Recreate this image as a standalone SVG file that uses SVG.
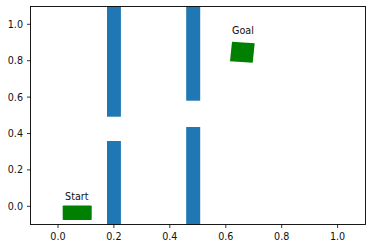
<svg xmlns="http://www.w3.org/2000/svg" width="372" height="248" viewBox="0 0 372 248">
<style>
.wall{fill:#1f77b4}
.goal{fill:#008000}
.tick{stroke:#000;stroke-width:0.8}
.lbl{font-family:"DejaVu Sans",sans-serif;font-size:9.6px;fill:#111}
.spine{fill:none;stroke:#000;stroke-width:0.9}
</style>
<rect width="372" height="248" fill="#fff"/>
<g id="walls">
<rect class="wall" x="107" y="6.5" width="13.9" height="110.2"/>
<rect class="wall" x="107" y="141" width="13.9" height="83.5"/>
<rect class="wall" x="186.2" y="6.5" width="14" height="94.2"/>
<rect class="wall" x="186.2" y="127" width="14" height="97.5"/>
</g>
<g id="start">
<rect class="goal" x="62.7" y="205.5" width="29" height="14.5" rx="0.8"/>
<text class="lbl" x="76.8" y="200" text-anchor="middle">Start</text>
</g>
<g id="goal">
<polygon class="goal" points="232,41.7 254.7,43.3 252.7,62.7 230,61.3"/>
<text class="lbl" x="243" y="34" text-anchor="middle">Goal</text>
</g>
<g id="axes">
<rect class="spine" x="30.5" y="6.5" width="335" height="218"/>
<g class="tick">
<line x1="58" y1="224.5" x2="58" y2="228"/>
<line x1="113.9" y1="224.5" x2="113.9" y2="228"/>
<line x1="169.8" y1="224.5" x2="169.8" y2="228"/>
<line x1="225.8" y1="224.5" x2="225.8" y2="228"/>
<line x1="281.7" y1="224.5" x2="281.7" y2="228"/>
<line x1="337.6" y1="224.5" x2="337.6" y2="228"/>
<line x1="27" y1="206.3" x2="30.5" y2="206.3"/>
<line x1="27" y1="169.9" x2="30.5" y2="169.9"/>
<line x1="27" y1="133.5" x2="30.5" y2="133.5"/>
<line x1="27" y1="97.1" x2="30.5" y2="97.1"/>
<line x1="27" y1="60.7" x2="30.5" y2="60.7"/>
<line x1="27" y1="24.3" x2="30.5" y2="24.3"/>
</g>
<g class="lbl" text-anchor="middle">
<text x="58" y="239.5">0.0</text>
<text x="113.9" y="239.5">0.2</text>
<text x="169.8" y="239.5">0.4</text>
<text x="225.8" y="239.5">0.6</text>
<text x="281.7" y="239.5">0.8</text>
<text x="337.6" y="239.5">1.0</text>
</g>
<g class="lbl" text-anchor="end">
<text x="23" y="209.7">0.0</text>
<text x="23" y="173.3">0.2</text>
<text x="23" y="136.9">0.4</text>
<text x="23" y="100.5">0.6</text>
<text x="23" y="64.1">0.8</text>
<text x="23" y="27.7">1.0</text>
</g>
</g>
</svg>
